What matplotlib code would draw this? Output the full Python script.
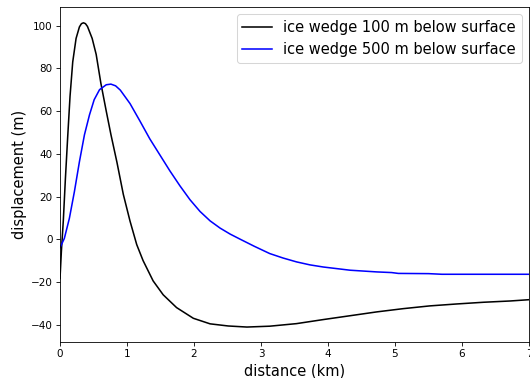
import matplotlib
matplotlib.use("Agg")
import matplotlib.pyplot as plt

# distance (km) and displacement (m) for ice wedge 100 m below surface
x_100 = [0.0, 0.02, 0.05, 0.08, 0.115, 0.15, 0.19, 0.24, 0.29, 0.32, 0.35, 0.38,
         0.41, 0.48, 0.54, 0.61, 0.69, 0.76, 0.85, 0.945, 1.045, 1.145, 1.24,
         1.39, 1.54, 1.74, 1.99, 2.24, 2.51, 2.79, 3.13, 3.53, 3.93, 4.33, 4.73,
         5.12, 5.52, 5.92, 6.32, 6.72, 7.0]
y_100 = [-18.4, -6.0, 9.0, 28.0, 48.0, 67.0, 83.0, 94.0, 99.4, 100.9, 101.3, 100.9,
         99.6, 94.0, 86.5, 73.0, 60.0, 49.0, 36.0, 21.0, 8.5, -2.5, -10.0,
         -19.5, -26.0, -32.0, -37.0, -39.6, -40.6, -41.1, -40.7, -39.5, -37.6,
         -35.8, -34.0, -32.5, -31.2, -30.3, -29.5, -28.9, -28.3]

# distance (km) and displacement (m) for ice wedge 500 m below surface
x_500 = [0.0, 0.065, 0.14, 0.215, 0.29, 0.365, 0.44, 0.51, 0.59, 0.69, 0.76,
         0.83, 0.9, 1.045, 1.19, 1.34, 1.49, 1.64, 1.79, 1.94, 2.09, 2.24, 2.39,
         2.54, 2.69, 2.9, 3.13, 3.33, 3.53, 3.73, 3.93, 4.33, 4.73, 4.95, 5.05,
         5.5, 5.7, 7.0]
y_500 = [-4.0, 0.4, 9.8, 22.3, 36.3, 48.9, 58.2, 65.3, 70.0, 72.3, 72.6,
         71.8, 69.8, 63.5, 55.5, 47.0, 39.5, 32.0, 25.0, 18.5, 13.0, 8.6, 5.2,
         2.4, 0.0, -3.3, -6.7, -8.8, -10.6, -12.0, -13.0, -14.5, -15.3, -15.6, -16.0,
         -16.1, -16.4, -16.4]

labels = ["ice wedge 100 m below surface", "ice wedge 500 m below surface"]
x_ticks = [0, 1, 2, 3, 4, 5, 6, 7]
y_ticks = [-40, -20, 0, 20, 40, 60, 80, 100]

W, H, DPI = 530, 378, 75
fig = plt.figure(figsize=(W / DPI, H / DPI), dpi=DPI)
ax = fig.add_axes([60 / W, (H - 342) / H, (529 - 60) / W, (342 - 7) / H])

ax.plot(x_100, y_100, color="black", lw=1.5, label=labels[0])
ax.plot(x_500, y_500, color="blue", lw=1.5, label=labels[1])

ax.set_xlim(0, 7)
ax.set_ylim(-48.1, 108.7)
ax.set_xticks(x_ticks)
ax.set_yticks(y_ticks)
ax.tick_params(labelsize=10)
ax.set_xlabel("distance (km)", fontsize=14)
ax.set_ylabel("displacement (m)", fontsize=14)
ax.legend(loc="upper right", fontsize=14)

fig.savefig("out.png", dpi=DPI)
